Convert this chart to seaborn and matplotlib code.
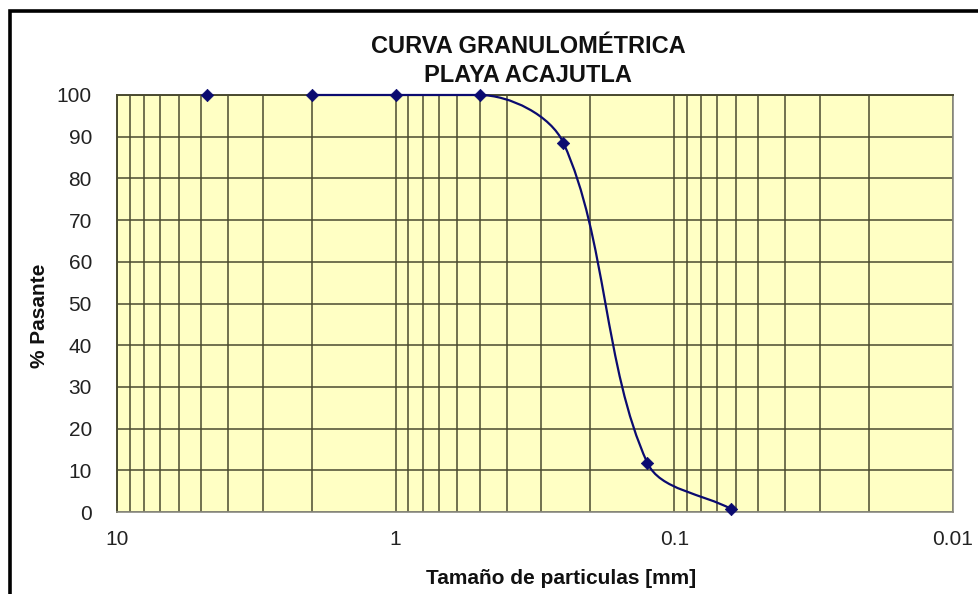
import numpy as np
import matplotlib
matplotlib.use("Agg")
import matplotlib.pyplot as plt
import seaborn as sns
from matplotlib.path import Path
from matplotlib.patches import PathPatch, Rectangle
from matplotlib.ticker import LogLocator, NullFormatter

# Datos de la curva granulométrica
tamano = [4.75, 2.0, 1.0, 0.5, 0.25, 0.125, 0.0625]
pasante = [100, 100, 100, 100, 88.5, 11.8, 0.7]
inicio_linea = 1  # la línea parte desde 2 mm

x_ticks = [10, 1, 0.1, 0.01]
x_tick_labels = ["10", "1", "0.1", "0.01"]
y_ticks = list(range(0, 101, 10))

titulo = "CURVA GRANULOMÉTRICA\nPLAYA ACAJUTLA"
x_label = "Tamaño de particulas [mm]"
y_label = "% Pasante"

sns.set_style("white")
plt.rcParams["font.family"] = ["Liberation Sans", "DejaVu Sans"]

W, H = 979, 594
fig = plt.figure(figsize=(W / 100, H / 100), dpi=100)
ax = fig.add_axes([117 / W, 1 - 512 / H, (953 - 117) / W, (512 - 95) / H])
ax.set_facecolor("#FFFFC4")

navy = "#0B0B70"
grid_c = "#4A4A30"

# linea suavizada tipo Excel (Bezier en espacio de pantalla)
sx = (953 - 117) / 3.0
sy = (512 - 95) / 100.0
P = np.column_stack([np.log10(tamano[inicio_linea:]) * sx,
                     np.array(pasante[inicio_linea:]) * sy])
n = len(P)


def tangente(i):
    p0 = P[i - 1] if i > 0 else P[i]
    p2 = P[i + 1] if i + 1 < n else P[i]
    t = (p2 - p0).astype(float)
    dy_a = P[i][1] - p0[1]
    dy_b = p2[1] - P[i][1]
    # sin sobrepaso en tramos planos o extremos
    if dy_a * dy_b <= 0 and (i > 0 and i + 1 < n):
        t[1] = 0.0
    return t, np.linalg.norm(P[i] - p0), np.linalg.norm(p2 - P[i])


verts = [P[0]]
codes = [Path.MOVETO]
for i in range(n - 1):
    t1, a1, b1 = tangente(i)
    t2, a2, b2 = tangente(i + 1)
    c1 = P[i] + t1 * b1 / (a1 + b1) / 3
    c2 = P[i + 1] - t2 * a2 / (a2 + b2) / 3
    verts += [c1, c2, P[i + 1]]
    codes += [Path.CURVE4] * 3
verts = np.array(verts)
data_verts = np.column_stack([10 ** (verts[:, 0] / sx), verts[:, 1] / sy])
curve = PathPatch(Path(data_verts, codes), fill=False, edgecolor=navy,
                  lw=1.6, clip_on=False, zorder=3)
ax.add_patch(curve)

sns.scatterplot(x=tamano, y=pasante, marker="D", s=40, color=navy,
                edgecolor=navy, linewidth=0.5, ax=ax, zorder=4, clip_on=False)

ax.set_xscale("log")
ax.set_xlim(10, 0.01)
ax.set_ylim(0, 100)
ax.set_xticks(x_ticks)
ax.set_xticklabels(x_tick_labels)
ax.xaxis.set_minor_locator(LogLocator(base=10, subs=range(2, 10)))
ax.xaxis.set_minor_formatter(NullFormatter())
ax.set_yticks(y_ticks)

ax.set_axisbelow(True)
ax.grid(which="both", axis="x", color=grid_c, lw=1.1)
ax.grid(which="major", axis="y", color=grid_c, lw=1.1)

ax.tick_params(axis="x", which="major", direction="out", length=4, width=1,
               color="#808080", pad=9, labelsize=15, labelcolor="#222222")
ax.tick_params(axis="x", which="minor", length=0)
ax.tick_params(axis="y", direction="out", length=6, width=1,
               color="#808080", pad=12, labelsize=15, labelcolor="#222222")

for side in ["bottom", "right"]:
    ax.spines[side].set_color("#8A8A80")
    ax.spines[side].set_linewidth(1.2)
for side in ["left", "top"]:
    ax.spines[side].set_color(grid_c)
    ax.spines[side].set_linewidth(1.4)

fig.text(528 / W, 1 - 61 / H, titulo, ha="center", va="center",
         fontsize=17, fontweight="bold", color="#111111", linespacing=1.3)
fig.text(561 / W, 1 - 578 / H, x_label, ha="center", va="center",
         fontsize=15, fontweight="bold", color="#111111")
fig.text(40 / W, 1 - 316 / H, y_label, ha="center", va="center",
         rotation=90, fontsize=15, fontweight="bold", color="#111111")

# marco exterior
fig.patches.append(Rectangle((10 / W, -0.1), 1.2, 1 - 11 / H + 0.1,
                             transform=fig.transFigure, fill=False,
                             edgecolor="black", lw=2.6))

fig.savefig("out.png", dpi=100)
